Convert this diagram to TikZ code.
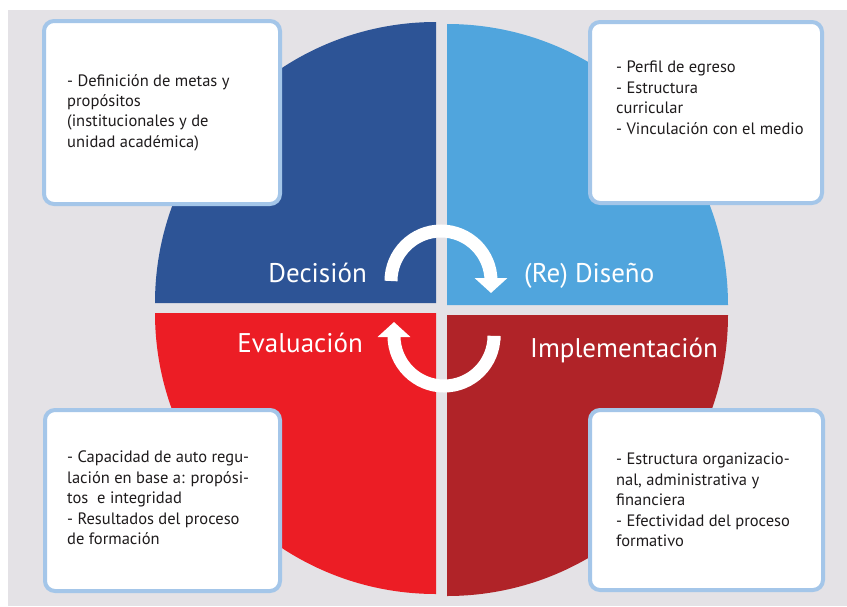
\documentclass[tikz,border=0pt]{standalone}
\usepackage{fontspec}
\setmainfont{PT Sans}
\usetikzlibrary{arrows.meta}
\definecolor{bgc}{RGB}{228,226,230}
\definecolor{dblue}{RGB}{45,84,150}
\definecolor{lblue}{RGB}{80,165,221}
\definecolor{lred}{RGB}{236,29,37}
\definecolor{dred}{RGB}{176,35,40}
\definecolor{boxc}{RGB}{164,198,233}
\definecolor{txtc}{RGB}{30,27,28}
\tikzset{
  box/.style={draw=boxc, line width=4pt, fill=white, rounded corners=10pt, inner sep=0pt},
  boxtext/.style={anchor=north west, inner sep=0pt, align=left, text=txtc, font=\fontsize{16.5}{20.4}\selectfont},
  biglabel/.style={inner sep=0pt, text=white, font=\fontsize{27}{30}\selectfont},
  cyc/.style={draw=white, line width=13pt, -{Triangle[width=32pt,length=15pt]}}
}
\begin{document}
\begin{tikzpicture}[x=1pt,y=-1pt]
\useasboundingbox (0,0) rectangle (847,606);
\fill[white] (0,0) rectangle (847,606);
\fill[bgc] (8,10) rectangle (847,606);
% quadrants
\fill[dblue] (436,303) -- (155,303) arc (180:270:281) -- cycle;
\fill[lblue] (447,305) -- (447,24) arc (270:360:281) -- cycle;
\fill[dred] (447,315) -- (728,315) arc (0:90:281) -- cycle;
\fill[lred] (436,313) -- (436,594) arc (90:180:281) -- cycle;
% labels
\node[biglabel, anchor=base east] (dec) at (367,282) {Decisión};
\node[biglabel, anchor=base west] (dis) at (524,282) {(Re) Diseño};
\node[biglabel, anchor=base east] (eva) at (363,352) {Evaluación};
\node[biglabel, anchor=base west] (imp) at (530,357) {Implementación};
% cycle arrows
\coordinate (a1s) at (391,281);
\coordinate (a1e) at (491,293);
\draw[cyc] (a1s) arc (180:360:50) -- (a1e);
\coordinate (a2s) at (494,340);
\coordinate (a2e) at (394,322);
\draw[cyc] (a2s) -- (494,336) arc (0:180:50) -- (a2e);
% boxes
\node[box, minimum width=236pt, minimum height=183pt] (btl) at (162,112.5) {};
\node[box, minimum width=232pt, minimum height=181pt] (btr) at (706,112.5) {};
\node[box, minimum width=235pt, minimum height=181pt] (bbl) at (162.5,500.5) {};
\node[box, minimum width=233pt, minimum height=180pt] (bbr) at (706.5,500) {};
% box texts
\node[boxtext] (ttl) at (67,74) {- Definición de metas y\\propósitos\\(institucionales y de\\unidad académica)};
\node[boxtext] (ttr) at (616,61) {- Perfil de egreso\\- Estructura\\curricular\\- Vinculación con el medio};
\node[boxtext] (tbl) at (67,451) {- Capacidad de auto regu-\\lación en base a: propósi-\\tos\ \ e integridad\\- Resultados del proceso\\de formación};
\node[boxtext] (tbr) at (616,453) {- Estructura organizacio-\\nal, administrativa y\\financiera\\- Efectividad del proceso\\formativo};
\end{tikzpicture}
\end{document}
